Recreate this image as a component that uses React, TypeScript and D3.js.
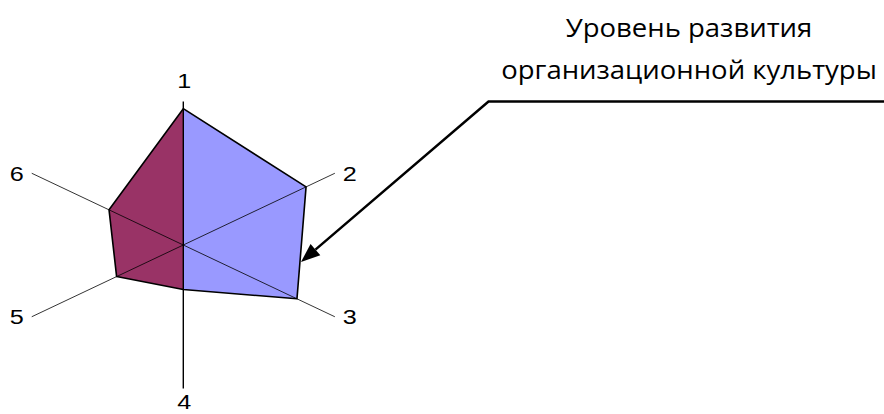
import React from "react";
import * as d3 from "d3";

// radar data: six criteria, value of each on a 0..100 scale
const axisLabels = ["1", "2", "3", "4", "5", "6"];
const levelValues = [95, 81, 75, 31, 44, 49];
const maxValue = 100;

const noteLines = ["Уровень развития", "организационной культуры"];

const W = 884;
const H = 414;

const App = () => {
  const cx = 183.3;
  const cy = 245;
  // picture is stretched horizontally, so the two radii differ
  const rx = d3.scaleLinear().domain([0, maxValue]).range([0, 175]);
  const ry = d3.scaleLinear().domain([0, maxValue]).range([0, 143.5]);
  const stretch = 1.2;

  const angle = (i: number) => (i * 2 * Math.PI) / axisLabels.length;
  const px = (i: number, v: number) => cx + rx(v) * Math.sin(angle(i));
  const py = (i: number, v: number) => cy - ry(v) * Math.cos(angle(i));

  const pts: [number, number][] = levelValues.map((v, i) => [px(i, v), py(i, v)]);
  const line = d3.line();
  const closed = d3.line().curve(d3.curveLinearClosed);

  // right half (1..4) and left half (4..6,1)
  const rightHalf = [pts[0], pts[1], pts[2], pts[3]];
  const leftHalf = [pts[3], pts[4], pts[5], pts[0]];

  // annotation arrow
  const elbow: [number, number] = [488.5, 101.5];
  const tip: [number, number] = [301, 262];
  const dx = tip[0] - elbow[0];
  const dy = tip[1] - elbow[1];
  const len = Math.hypot(dx, dy);
  const ux = dx / len;
  const uy = dy / len;
  const headLen = 19;
  const headHalf = 7.5;
  const baseX = tip[0] - ux * headLen;
  const baseY = tip[1] - uy * headLen;
  const head = [
    [tip[0], tip[1]],
    [baseX - uy * headHalf, baseY + ux * headHalf],
    [baseX + uy * headHalf, baseY - ux * headHalf],
  ] as [number, number][];

  return (
    <svg width={W} height={H} style={{ position: "absolute", left: 0, top: 0, background: "#fff" }}>
      <path d={closed(rightHalf) || ""} fill="#9999FF" stroke="none" />
      <path d={closed(leftHalf) || ""} fill="#993366" stroke="none" />

      {axisLabels.map((lab, i) => (
        <line
          key={"ax" + lab}
          x1={cx}
          y1={cy}
          x2={px(i, maxValue)}
          y2={py(i, maxValue)}
          stroke="#000"
          strokeWidth={i % 3 === 0 ? 1.4 : 0.8}
        />
      ))}

      <path d={closed(pts) || ""} fill="none" stroke="#000" strokeWidth={1.6} strokeLinejoin="round" />

      {axisLabels.map((lab, i) => {
        const ex = px(i, maxValue);
        const ey = py(i, maxValue);
        const s = Math.sin(angle(i));
        const c = Math.cos(angle(i));
        let x = ex + 1;
        let y = ey;
        let anchor = "middle";
        let dyv: string | number = 0;
        if (Math.abs(s) < 0.01) {
          // bottom label sits at the very edge of the picture
          y = c > 0 ? ey - 14 : Math.min(ey + 31, H - 5);
        } else {
          x = s > 0 ? ex + 8 : ex - 8;
          anchor = s > 0 ? "start" : "end";
          dyv = "0.36em";
        }
        return (
          <text
            key={"lb" + lab}
            transform={`translate(${x},${y}) scale(${stretch},1)`}
            dy={dyv}
            textAnchor={anchor}
            fontFamily="Liberation Sans, Arial, sans-serif"
            fontSize={21}
            fill="#000"
          >
            {lab}
          </text>
        );
      })}

      <path d={line([[W, elbow[1]], elbow, [baseX, baseY]]) || ""} fill="none" stroke="#000" strokeWidth={2.5} />
      <path d={closed(head) || ""} fill="#000" stroke="none" />

      {noteLines.map((t, i) => (
        <text
          key={"n" + i}
          transform={`translate(689,${37 + i * 42}) scale(1.1,1)`}
          textAnchor="middle"
          fontFamily="Open Sans, Noto Sans, sans-serif"
          fontSize={25}
          fill="#000"
        >
          {t}
        </text>
      ))}
    </svg>
  );
};

export default App;
